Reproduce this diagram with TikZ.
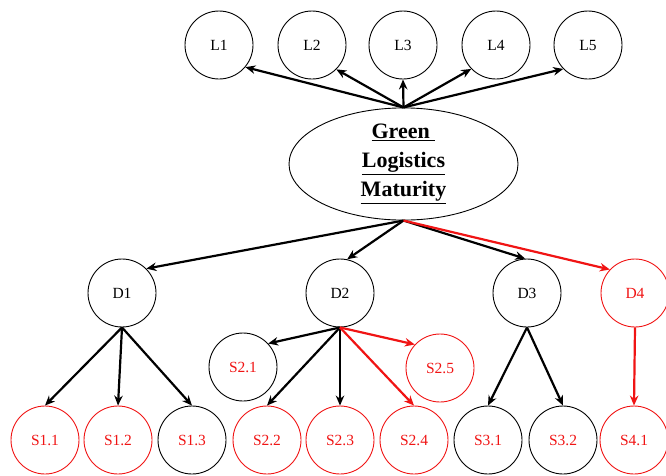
\documentclass[tikz,border=0pt]{standalone}
\usepackage{fontspec}
\setmainfont{Liberation Serif}
\usetikzlibrary{shapes.geometric,arrows.meta}
\definecolor{hired}{RGB}{240,20,20}
\begin{document}
\begin{tikzpicture}[x=1pt,y=-1pt,
  circ/.style={circle,draw=black,line width=0.9pt,minimum size=68pt,inner sep=0pt,
    font=\fontsize{15.5}{15.5}\selectfont},
  redc/.style={circ,draw=hired,text=hired},
  redt/.style={circ,text=hired},
  arr/.style={line width=2.2pt,-{Stealth[length=10pt,width=8.5pt]}},
  rarr/.style={arr,draw=hired,color=hired}]
\useasboundingbox (0,0) rectangle (666,475);

% central construct
\node[ellipse,draw,line width=0.9pt,minimum width=229pt,minimum height=102pt,inner sep=0pt,
  align=center,font=\fontsize{22}{29}\selectfont\bfseries] (G) at (403.5,164)
  {\underline{Green\ }\\\underline{Logistics}\\\underline{Maturity}};

% indicator row
\node[circ] (L1) at (219,45) {L1};
\node[circ] (L2) at (312,45) {L2};
\node[circ] (L3) at (403,45) {L3};
\node[circ] (L4) at (496,45) {L4};
\node[circ] (L5) at (588,45) {L5};

% dimensions
\node[circ] (D1) at (122,293) {D1};
\node[circ] (D2) at (340,293) {D2};
\node[circ] (D3) at (527,293) {D3};
\node[redc] (D4) at (635,293) {D4};

% sub-dimensions
\node[redc] (S11) at (45,440) {S1.1};
\node[redc] (S12) at (118,440) {S1.2};
\node[redt] (S13) at (192,440) {S1.3};
\node[redt] (S21) at (243,367) {S2.1};
\node[redc] (S22) at (267,440) {S2.2};
\node[redc] (S23) at (340,440) {S2.3};
\node[redc] (S24) at (414,440) {S2.4};
\node[redc] (S25) at (440,368) {S2.5};
\node[redt] (S31) at (488,440) {S3.1};
\node[redt] (S32) at (563,440) {S3.2};
\node[redc] (S41) at (634,440) {S4.1};

% arrows to indicators
\draw[arr] (G.north) -- (L1.-40);
\draw[arr] (G.north) -- (L2.-45);
\draw[arr] (G.north) -- (L3.south);
\draw[arr] (G.north) -- (L4.-136);
\draw[arr] (G.north) -- (L5.-136);

% arrows to dimensions
\draw[arr] (G.south) -- (D1.45);
\draw[arr] (G.south) -- (D2.78);
\draw[arr] (G.south) -- (D3.93);
\draw[rarr] (G.south) -- (D4.137);

% arrows to sub-dimensions
\draw[arr] (D1.south) -- (S11.north);
\draw[arr] (D1.south) -- (S12.north);
\draw[arr] (D1.south) -- (S13.north);
\draw[arr] (D2.south) -- (S21.43);
\draw[arr] (D2.south) -- (S22.north);
\draw[arr] (D2.south) -- (S23.north);
\draw[rarr] (D2.south) -- (S24.north);
\draw[rarr] (D2.south) -- (S25.137);
\draw[arr] (D3.south) -- (S31.north);
\draw[arr] (D3.south) -- (S32.north);
\draw[rarr] (D4.south) -- (S41.north);
\end{tikzpicture}
\end{document}
